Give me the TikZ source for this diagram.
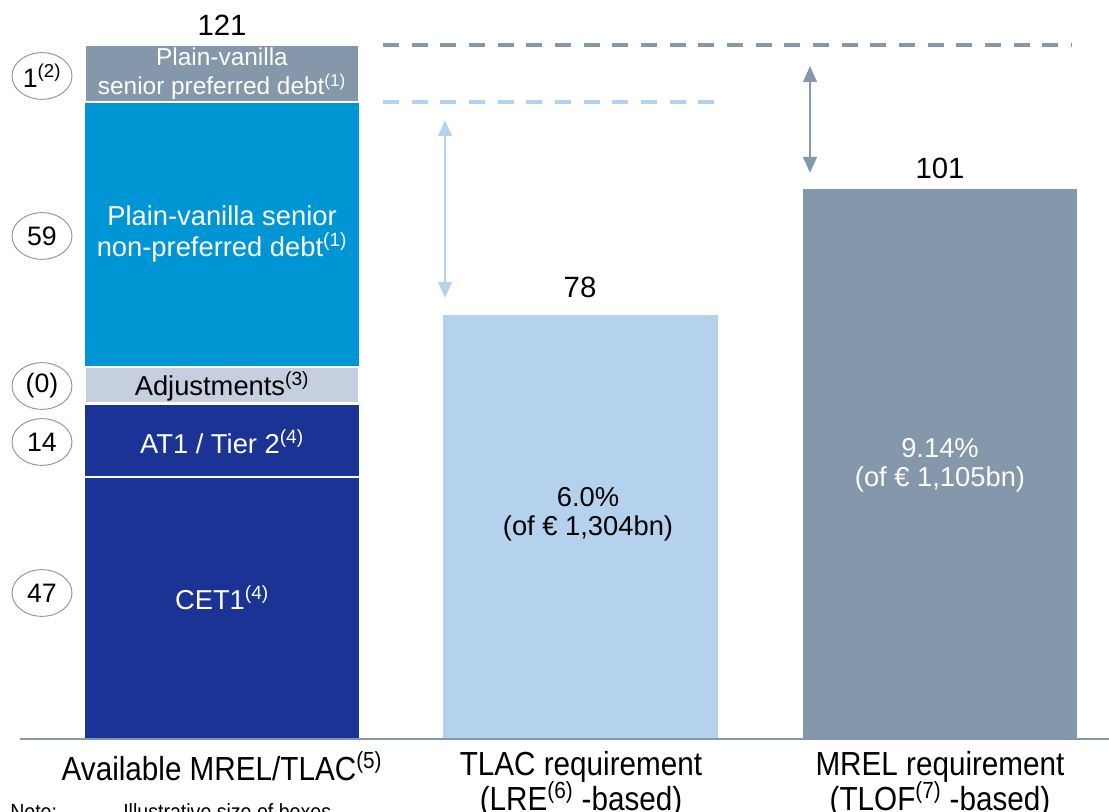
\documentclass[tikz,border=0pt]{standalone}
\usepackage{fontspec}
\setmainfont{Liberation Sans}
\newfontfamily\narrowfont[FakeStretch=0.89]{Liberation Sans}
\usetikzlibrary{shapes.geometric,arrows.meta}
\definecolor{navy}{RGB}{27,51,148}
\definecolor{brightblue}{RGB}{0,150,214}
\definecolor{slate}{RGB}{132,151,171}
\definecolor{adjgray}{RGB}{197,207,224}
\definecolor{lightblue}{RGB}{180,210,238}
\tikzset{
  oval/.style={ellipse, draw=slate, line width=0.7pt, fill=white, minimum width=45pt, minimum height=35pt, inner sep=0pt, font=\fontsize{20}{22}\selectfont},
  bartext/.style={text=white, align=center, inner sep=0pt, font=\fontsize{20.5}{23}\selectfont},
  toptext/.style={align=center, inner sep=0pt, font=\fontsize{22}{24}\selectfont},
  midtext/.style={align=center, inner sep=0pt, font=\fontsize{20.5}{22}\selectfont},
  axislabel/.style={align=center, inner sep=0pt, font=\narrowfont\fontsize{25}{23.5}\selectfont},
  notetext/.style={anchor=base west, inner sep=0pt, font=\narrowfont\fontsize{16.5}{18}\selectfont},
  gapline/.style={line width=3pt, dash pattern=on 12pt off 9.5pt},
  gaparrow/.style={line width=2.2pt, {Triangle[width=10pt,length=12pt]}-{Triangle[width=10pt,length=12pt]}},
  seg/.style={draw=white, line width=0.8pt}
}
\newcommand{\sups}[1]{\textsuperscript{(#1)}}
\begin{document}
\begin{tikzpicture}[x=0.75pt,y=-0.75pt]
\useasboundingbox (0,0) rectangle (1109,812);
% left stacked bar
\fill[slate, seg] (85,45) rectangle (359,102);
\fill[brightblue] (85,103) rectangle (359,366);
\fill[adjgray, seg] (85,367) rectangle (359,403);
\fill[navy] (85,405) rectangle (359,476);
\fill[navy] (85,478) rectangle (359,738);
% middle and right bars
\fill[lightblue] (443,315) rectangle (718,738);
\fill[slate] (803,189) rectangle (1077,738);
% baseline
\draw[slate, line width=1.6pt] (20,739) -- (1109,739);
% bar texts
\node[bartext, font=\fontsize{18.3}{21.75}\selectfont] (tsp) at (222,74) {Plain-vanilla\\senior preferred debt\sups{1}};
\node[bartext] (tsnp) at (222,234) {Plain-vanilla senior\\non-preferred debt\sups{1}};
\node[bartext, text=black] (tadj) at (222,386) {Adjustments\sups{3}};
\node[bartext] (tat1) at (222,442) {AT1 / Tier 2\sups{4}};
\node[bartext] (tcet) at (222,598) {CET1\sups{4}};
\node[midtext] (ttlac) at (588,514) {6.0\%\\(of € 1,304bn)};
\node[midtext, text=white] (tmrel) at (940,465) {9.14\%\\(of € 1,105bn)};
% totals
\node[toptext] (n121) at (222,25) {121};
\node[toptext] (n78) at (580,287) {78};
\node[toptext] (n101) at (940,168) {101};
% ovals
\node[oval] (o1) at (42,76) {1\sups{2}};
\node[oval] (o59) at (42,236) {59};
\node[oval] (o0) at (42,386) {(0)};
\node[oval] (o14) at (42,442) {14};
\node[oval] (o47) at (42,593) {47};
% dashed lines
\coordinate (d1a) at (383,45);
\coordinate (d1b) at (1072,45);
\coordinate (d2a) at (383,102);
\coordinate (d2b) at (720,102);
\draw[slate, gapline] (d1a) -- (d1b);
\draw[lightblue, gapline] (d2a) -- (d2b);
% arrows
\coordinate (a1t) at (810,66);
\coordinate (a1b) at (810,173);
\coordinate (a2t) at (445,120);
\coordinate (a2b) at (445,298);
\draw[slate, gaparrow] (a1t) -- (a1b);
\draw[lightblue, gaparrow] (a2t) -- (a2b);
% axis labels
\node[axislabel, anchor=north] (lav) at (222,751) {Available MREL/TLAC\sups{5}};
\node[axislabel, anchor=north] (ltlac) at (581,751) {TLAC requirement\\[-1.5pt](LRE\sups{6} -based)};
\node[axislabel, anchor=north] (lmrel) at (940,751) {MREL requirement\\[-1.5pt](TLOF\sups{7} -based)};
% note
\node[notetext] (note) at (10,819) {Note:};
\node[notetext] (notetxt) at (123,819) {Illustrative size of boxes};
\end{tikzpicture}
\end{document}
